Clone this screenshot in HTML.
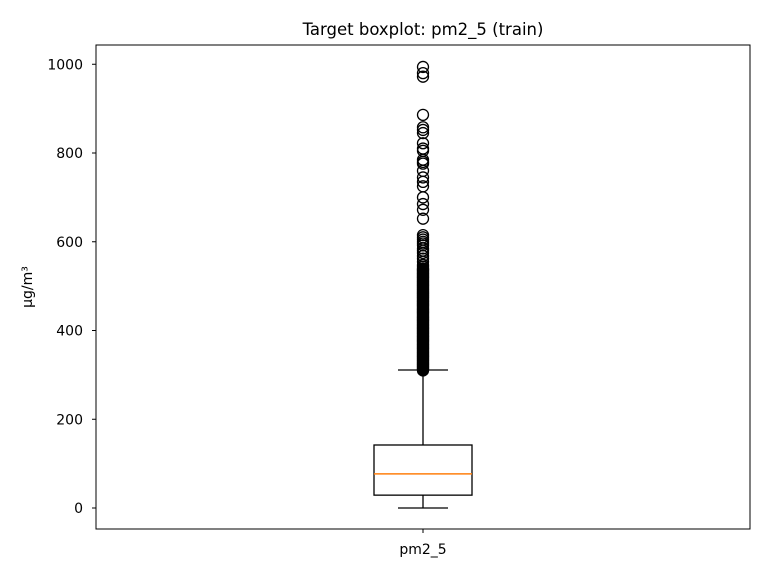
<!DOCTYPE html>
<html><head><meta charset="utf-8"><style>
body{margin:0;background:#fff}
svg text{font-family:"DejaVu Sans","Liberation Sans",sans-serif;fill:#000}
</style></head><body>
<svg id="chart" width="768" height="576" xmlns="http://www.w3.org/2000/svg">
<rect width="768" height="576" fill="#fff"/>
<text x="423" y="35" font-size="16.5" text-anchor="middle">Target boxplot: pm2_5 (train)</text>
<g id="plot"></g>
<rect x="96" y="45" width="654" height="484" fill="none" stroke="#000" stroke-width="1"/>
<text transform="translate(32,287) rotate(-90)" font-size="14" text-anchor="middle">µg/m³</text>
</svg>
<script>
const categories = ["pm2_5"];
const boxStats = [{min:0, q1:29, median:77, q3:142, max:311}];
const outliers = [994,980,972,886,858,852,845,822,810,805,785,780,776,760,745,735,725,700,685,672,652,615,610,605,600,596,592,585,580,575,568,562,555,548,544,540,538,536,534,532,530,528,526,524,522,520,518,516,514,512,510,508,506,504,502,500,498,496,494,492,490,488,486,484,482,480,478,476,474,472,470,468,466,464,462,460,458,456,454,452,450,448,446,444,442,440,438,436,434,432,430,428,426,424,422,420,418,416,414,412,410,408,406,404,402,400,398,396,394,392,390,388,386,384,382,380,378,376,374,372,370,368,366,364,362,360,358,356,354,352,350,348,346,344,342,340,338,336,334,332,330,328,326,324,322,320,318,316,314,312,310];
const yTicks = [0,200,400,600,800,1000];

const NS="http://www.w3.org/2000/svg";
const g=document.getElementById('plot');
const yMin=-47.3,yMax=1043.4,yTopPx=45,yBotPx=529;
function y(v){return yBotPx-(v-yMin)/(yMax-yMin)*(yBotPx-yTopPx);}
function x(i){return 423+i*0;}
function mk(t,a){const e=document.createElementNS(NS,t);for(const k in a)e.setAttribute(k,a[k]);g.appendChild(e);return e;}
yTicks.forEach(t=>{
  const l=mk('line',{x1:92,x2:96,y1:y(t),y2:y(t),stroke:'#000'});
  
  
  const tx=mk('text',{x:83,y:y(t)+5,'font-size':'14','text-anchor':'end'});
  tx.textContent=t;
  
  
});
categories.forEach((c,i)=>{
  const s=boxStats[i],cx=x(i),hw=49,cw=25;
  const w1=mk('line',{x1:cx,x2:cx,y1:y(s.q3),y2:y(s.max),stroke:'#000','stroke-width':1.3});
  
  
  const w2=mk('line',{x1:cx,x2:cx,y1:y(s.q1),y2:y(s.min),stroke:'#000','stroke-width':1.3});
  
  
  const c1=mk('line',{x1:cx-cw,x2:cx+cw,y1:y(s.max),y2:y(s.max),stroke:'#000','stroke-width':1.3});
  
  
  const c2=mk('line',{x1:cx-cw,x2:cx+cw,y1:y(s.min),y2:y(s.min),stroke:'#000','stroke-width':1.3});
  
  
  const b=mk('rect',{x:cx-hw,y:y(s.q3),width:hw*2,height:y(s.q1)-y(s.q3),fill:'none',stroke:'#000','stroke-width':1.3});
  
  
  const m=mk('line',{x1:cx-hw,x2:cx+hw,y1:y(s.median),y2:y(s.median),stroke:'#ff7f0e','stroke-width':1.5});
  
  
  outliers.forEach(v=>{
    const o=mk('circle',{cx:cx,cy:y(v),r:5.5,fill:'none',stroke:'#000','stroke-width':1.3});
    
    
  });
  const t=mk('line',{x1:cx,x2:cx,y1:yBotPx,y2:yBotPx+4,stroke:'#000'});
  
  
  const tl=mk('text',{x:cx,y:yBotPx+25,'font-size':'14','text-anchor':'middle'});
  tl.textContent=c;
  
  
});
</script>
</body></html>
